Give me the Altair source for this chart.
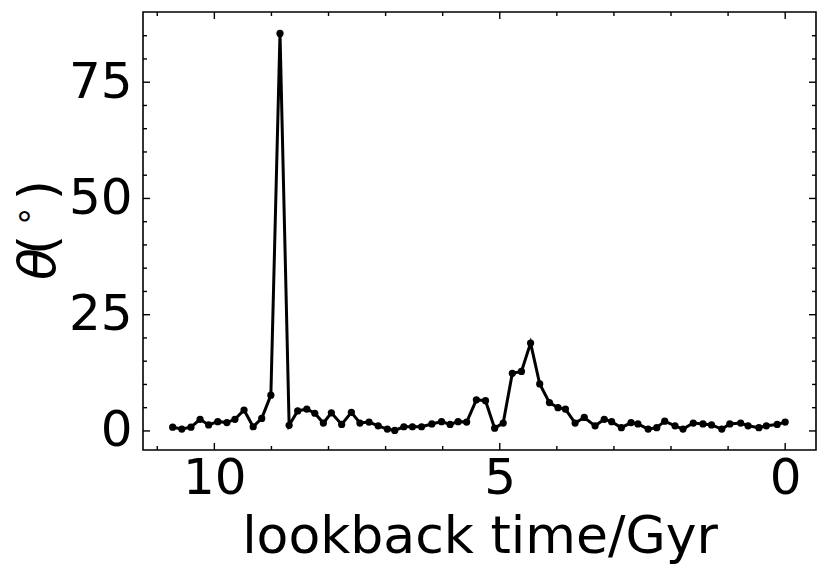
import altair as alt
import pandas as pd

# ---- data ----
lookback_gyr = [10.73, 10.57, 10.41, 10.25, 10.10, 9.94, 9.78, 9.64, 9.48, 9.32,
                9.17, 9.01, 8.85, 8.69, 8.54, 8.38, 8.24, 8.09, 7.95, 7.77,
                7.60, 7.45, 7.29, 7.13, 6.97, 6.84, 6.68, 6.53, 6.37, 6.19,
                6.02, 5.87, 5.73, 5.58, 5.41, 5.25, 5.09, 4.94, 4.78, 4.62,
                4.46, 4.30, 4.13, 3.98, 3.85, 3.68, 3.52, 3.33, 3.17, 3.04,
                2.87, 2.70, 2.58, 2.40, 2.25, 2.11, 1.93, 1.79, 1.61, 1.44,
                1.29, 1.11, 0.97, 0.78, 0.65, 0.46, 0.33, 0.14, 0.00]
theta_deg = [0.8, 0.4, 0.8, 2.5, 1.3, 2.0, 1.8, 2.5, 4.5, 0.9,
             2.7, 7.7, 85.5, 1.2, 4.3, 4.7, 3.8, 1.7, 3.9, 1.4,
             4.0, 1.7, 1.9, 1.1, 0.4, 0.1, 0.9, 0.9, 0.9, 1.5,
             2.0, 1.4, 2.0, 1.9, 6.7, 6.5, 0.6, 1.7, 12.4, 12.8,
             18.9, 10.1, 6.1, 5.0, 4.7, 1.7, 2.9, 1.1, 2.5, 2.0,
             0.7, 1.8, 1.5, 0.4, 0.7, 2.1, 1.1, 0.4, 1.7, 1.5,
             1.3, 0.4, 1.5, 1.7, 1.1, 0.7, 1.1, 1.4, 1.9]

x_major = [0, 5, 10]
x_minor = [1, 2, 3, 4, 6, 7, 8, 9, 11]
y_major = [0, 25, 50, 75]
y_minor = [5, 10, 15, 20, 30, 35, 40, 45, 55, 60, 65, 70, 80, 85]

x_title = "lookback time/Gyr"
y_title_parts = ["θ", "(", "∘", ")"]

W, H = 673, 438
FONT = "DejaVu Sans"
MAJ, MIN = 7, 4
TW = 1.4

df = pd.DataFrame({"t": lookback_gyr, "theta": theta_deg})

xs = alt.Scale(domain=[-0.54, 11.25], reverse=True, nice=False, zero=False)
ys = alt.Scale(domain=[-4.1, 90.1], nice=False, zero=False)

x_axis = alt.Axis(values=x_major, format="d", labelFontSize=50, labelFont=FONT,
                  labelColor="black", labelBaseline="alphabetic", labelPadding=43,
                  ticks=False, tickSize=0, domain=False, grid=False,
                  labelFlush=False, labelOverlap=False,
                  title=x_title, titleFont=FONT, titleFontSize=52,
                  titleFontWeight="normal", titleColor="black",
                  titleBaseline="alphabetic", titleY=102)
y_axis = alt.Axis(values=y_major, format="d", labelFontSize=50, labelFont=FONT,
                  labelColor="black", labelPadding=11,
                  ticks=False, tickSize=0, domain=False, grid=False,
                  labelFlush=False, labelOverlap=False, title=None)

line = alt.Chart(df).mark_line(color="black", strokeWidth=3).encode(
    x=alt.X("t:Q", scale=xs, axis=x_axis),
    y=alt.Y("theta:Q", scale=ys, axis=y_axis),
)
pts = alt.Chart(df).mark_circle(color="black", size=52, opacity=1).encode(
    x=alt.X("t:Q", scale=xs, axis=x_axis),
    y=alt.Y("theta:Q", scale=ys, axis=y_axis),
)


def xticks(vals, length):
    d = pd.DataFrame({"v": vals})
    bottom = alt.Chart(d).mark_rule(color="black", strokeWidth=TW).encode(
        x=alt.X("v:Q", scale=xs, axis=x_axis), y=alt.value(H), y2=alt.value(H - length))
    top = alt.Chart(d).mark_rule(color="black", strokeWidth=TW).encode(
        x=alt.X("v:Q", scale=xs, axis=x_axis), y=alt.value(0), y2=alt.value(length))
    return [bottom, top]


def yticks(vals, length):
    d = pd.DataFrame({"v": vals})
    left = alt.Chart(d).mark_rule(color="black", strokeWidth=TW).encode(
        y=alt.Y("v:Q", scale=ys, axis=y_axis), x=alt.value(0), x2=alt.value(length))
    right = alt.Chart(d).mark_rule(color="black", strokeWidth=TW).encode(
        y=alt.Y("v:Q", scale=ys, axis=y_axis), x=alt.value(W), x2=alt.value(W - length))
    return [left, right]


def ytext(txt, x, y, size, align, style="normal", baseline="alphabetic"):
    return alt.Chart(pd.DataFrame({"s": [txt]})).mark_text(
        font=FONT, fontSize=size, fontStyle=style, angle=270, align=align,
        baseline=baseline, color="black").encode(
        text="s:N", x=alt.value(x), y=alt.value(y))


title_layers = [
    ytext(y_title_parts[0], -88, 268, 52, "left", style="italic"),
    ytext(y_title_parts[1], -88, 243, 52, "left"),
    ytext(y_title_parts[2], -118, 204, 34, "center", baseline="middle"),
    ytext(y_title_parts[3], -88, 168, 52, "right"),
]

layers = [line, pts] + xticks(x_major, MAJ) + xticks(x_minor, MIN) \
    + yticks(y_major, MAJ) + yticks(y_minor, MIN) + title_layers

chart = alt.layer(*layers).properties(
    width=W, height=H,
    autosize=alt.AutoSizeParams(type="none"),
    padding={"left": 135, "top": 4, "right": 6, "bottom": 115},
).configure(
    font=FONT,
    view=alt.ViewConfig(stroke="black", strokeWidth=1.6),
)

chart.save("out.html", embed_options={"renderer": "svg", "actions": False})
